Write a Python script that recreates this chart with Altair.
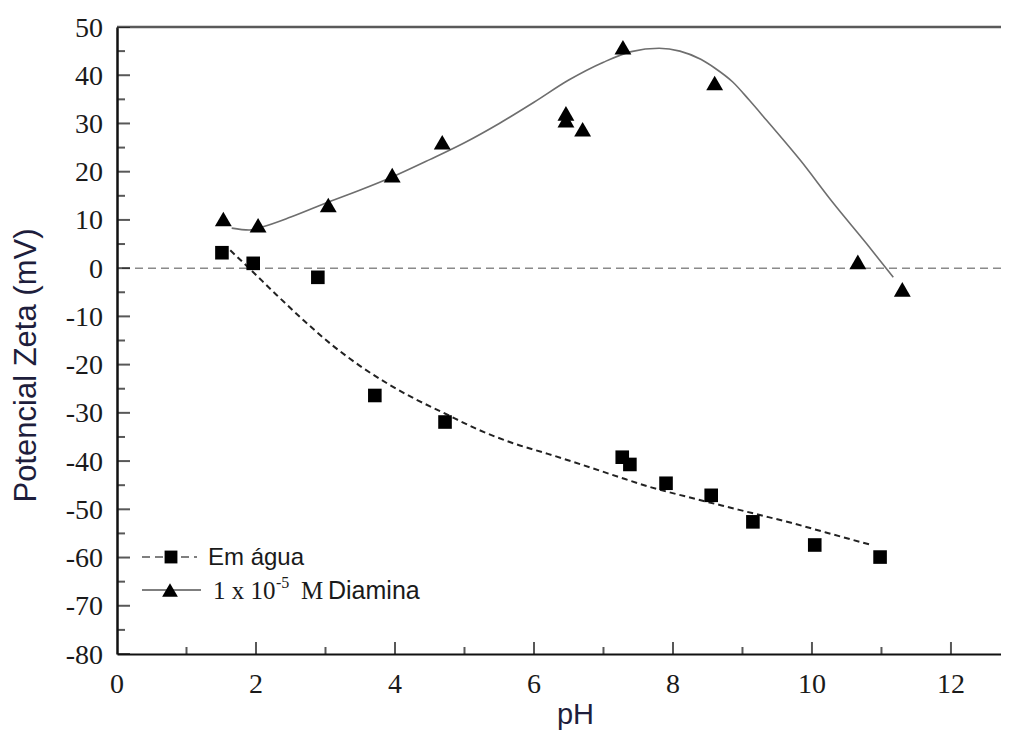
import altair as alt
import pandas as pd

# measured points
ph_agua = [1.51, 1.96, 2.89, 3.71, 4.72, 7.27, 7.38, 7.90, 8.55, 9.15, 10.04, 10.98]
zeta_agua = [3.2, 1.0, -1.9, -26.4, -31.9, -39.2, -40.7, -44.6, -47.1, -52.6, -57.4, -59.9]

ph_diam = [1.53, 2.03, 3.04, 3.96, 4.68, 6.46, 6.46, 6.70, 7.28, 8.60, 10.66, 11.30]
zeta_diam = [10.2, 8.9, 13.1, 19.3, 26.1, 32.1, 30.7, 28.8, 45.8, 38.4, 1.3, -4.4]

# fitted curves
fit_agua_ph = [1.63, 1.90, 2.30, 2.70, 3.10, 3.50, 3.90, 4.30, 4.70, 5.20, 5.70, 6.20,
               6.70, 7.20, 7.70, 8.20, 8.70, 9.20, 9.70, 10.20, 10.83]
fit_agua_zeta = [3.7, 0.0, -5.6, -11.0, -16.0, -20.3, -24.0, -27.2, -30.0, -33.5, -36.3, -38.5,
                 -40.8, -43.2, -45.5, -47.4, -49.2, -51.0, -52.8, -54.8, -57.3]

fit_diam_ph = [1.65, 1.90, 2.10, 2.50, 3.04, 3.50, 3.96, 4.50, 5.00, 5.50, 6.00, 6.50,
               7.00, 7.40, 7.80, 8.10, 8.40, 8.60, 8.86, 9.10, 9.35, 9.83, 10.30, 10.79, 11.17]
fit_diam_zeta = [8.3, 7.9, 8.6, 10.6, 13.7, 16.2, 18.9, 22.5, 26.0, 30.0, 34.4, 39.0,
                 42.7, 44.9, 45.6, 45.0, 43.3, 41.5, 38.6, 34.8, 30.6, 22.4, 13.6, 5.0, -1.9]

x_major = [0, 2, 4, 6, 8, 10, 12]
x_minor = [1, 3, 5, 7, 9, 11]
y_major = [-80, -70, -60, -50, -40, -30, -20, -10, 0, 10, 20, 30, 40, 50]
y_minor = [-75, -65, -55, -45, -35, -25, -15, -5, 5, 15, 25, 35, 45]
x_labels = [str(v) for v in x_major]
y_labels = [str(v) for v in y_major]

X_MAX = 12.72
W, H = 884, 627

xs = alt.Scale(domain=[0, X_MAX], nice=False, zero=False)
ys = alt.Scale(domain=[-80, 50], nice=False, zero=False)

SERIF = "Liberation Serif"
SANS = "Liberation Sans"

df_agua = pd.DataFrame({"pH": ph_agua, "zeta": zeta_agua})
df_diam = pd.DataFrame({"pH": ph_diam, "zeta": zeta_diam})
df_fa = pd.DataFrame({"pH": fit_agua_ph, "zeta": fit_agua_zeta})
df_fd = pd.DataFrame({"pH": fit_diam_ph, "zeta": fit_diam_zeta})
one = pd.DataFrame({"a": [0]})

x_axis = alt.Axis(values=x_major, tickSize=0, labels=False,
                  domainColor="#111", domainWidth=2, grid=False,
                  title="pH", titleFont=SANS, titleFontSize=29, titleFontWeight="normal",
                  titleColor="#1e1e3c", titleX=458, titleY=60, titleBaseline="middle")
y_axis = alt.Axis(values=y_major, tickSize=0, labels=False,
                  domainColor="#111", domainWidth=2.5, grid=False,
                  title="Potencial Zeta (mV)", titleFont=SANS, titleFontSize=31,
                  titleFontWeight="normal", titleColor="#1e1e3c", titleAngle=-90,
                  titleX=-91, titleY=338, titleBaseline="middle", titleAlign="center")

base_axes = alt.Chart(df_agua).mark_point(opacity=0).encode(
    x=alt.X("pH:Q", scale=xs, axis=x_axis),
    y=alt.Y("zeta:Q", scale=ys, axis=y_axis),
)

zero_line = alt.Chart(one).mark_rule(color="#8a8a8a", strokeDash=[8, 5], strokeWidth=1.5).encode(
    y=alt.datum(0))
top_line = alt.Chart(one).mark_rule(color="#5a5a5a", strokeWidth=2.5).encode(
    y=alt.datum(50))

fit_a = alt.Chart(df_fa).mark_line(color="#222", strokeDash=[6, 4], strokeWidth=2,
                                   interpolate="monotone").encode(x="pH:Q", y="zeta:Q")
fit_d = alt.Chart(df_fd).mark_line(color="#6e6e6e", strokeWidth=1.6,
                                   interpolate="monotone").encode(x="pH:Q", y="zeta:Q")

pts_a = alt.Chart(df_agua).mark_point(shape="square", filled=True, color="#000",
                                      size=185, opacity=1).encode(x="pH:Q", y="zeta:Q")
pts_d = alt.Chart(df_diam).mark_point(shape="triangle-up", filled=True, color="#000",
                                      size=285, opacity=1).encode(x="pH:Q", y="zeta:Q")

# inward ticks
ty_major = alt.Chart(pd.DataFrame({"pH": [0] * len(y_major), "zeta": y_major})).mark_tick(
    orient="horizontal", size=26, thickness=2, color="#111", clip=True).encode(
    x="pH:Q", y="zeta:Q")
ty_minor = alt.Chart(pd.DataFrame({"pH": [0] * len(y_minor), "zeta": y_minor})).mark_tick(
    orient="horizontal", size=16, thickness=2, color="#111", clip=True).encode(
    x="pH:Q", y="zeta:Q")
tx_major = alt.Chart(pd.DataFrame({"pH": x_major, "zeta": [-80] * len(x_major)})).mark_tick(
    orient="vertical", size=24, thickness=2, color="#111", clip=True).encode(
    x="pH:Q", y="zeta:Q")
tx_minor = alt.Chart(pd.DataFrame({"pH": x_minor, "zeta": [-80] * len(x_minor)})).mark_tick(
    orient="vertical", size=14, thickness=2, color="#111", clip=True).encode(
    x="pH:Q", y="zeta:Q")

# tick labels (serif), positioned through the scales
lx = alt.Chart(pd.DataFrame({"pH": x_major, "zeta": [-80] * len(x_major), "t": x_labels})).mark_text(
    font=SERIF, fontSize=28, color="#1a1a1a", align="center", baseline="alphabetic", dy=39).encode(
    x="pH:Q", y="zeta:Q", text="t:N")
ly = alt.Chart(pd.DataFrame({"pH": [0] * len(y_major), "zeta": y_major, "t": y_labels})).mark_text(
    font=SERIF, fontSize=28, color="#1a1a1a", align="right", baseline="alphabetic", dx=-14, dy=9.5).encode(
    x="pH:Q", y="zeta:Q", text="t:N")

# legend (pixel positions inside the plot area)
leg_l1 = alt.Chart(one).mark_rule(color="#555", strokeDash=[8, 5], strokeWidth=1.6).encode(
    x=alt.value(25), x2=alt.value(80), y=alt.value(530))
leg_p1 = alt.Chart(one).mark_point(shape="square", filled=True, color="#000", size=165,
                                   opacity=1).encode(x=alt.value(54), y=alt.value(530))
leg_t1 = alt.Chart(one).mark_text(text="Em água", font=SANS, fontSize=24, align="left",
                                  baseline="alphabetic", color="#1a1a1a").encode(
    x=alt.value(91), y=alt.value(538))
leg_l2 = alt.Chart(one).mark_rule(color="#555", strokeWidth=1.6).encode(
    x=alt.value(25), x2=alt.value(84), y=alt.value(563))
leg_p2 = alt.Chart(one).mark_point(shape="triangle-up", filled=True, color="#000", size=250,
                                   opacity=1).encode(x=alt.value(53), y=alt.value(563))
leg_t2a = alt.Chart(one).mark_text(text="1 x 10", font=SERIF, fontSize=25, align="left",
                                   baseline="alphabetic", color="#1a1a1a").encode(
    x=alt.value(96), y=alt.value(572))
leg_t2b = alt.Chart(one).mark_text(text="-5", font=SERIF, fontSize=16, align="left",
                                   baseline="alphabetic", color="#1a1a1a").encode(
    x=alt.value(159), y=alt.value(561))
leg_t2c = alt.Chart(one).mark_text(text="M", font=SERIF, fontSize=25, align="left",
                                   baseline="alphabetic", color="#1a1a1a").encode(
    x=alt.value(184), y=alt.value(572))
leg_t2d = alt.Chart(one).mark_text(text="Diamina", font=SANS, fontSize=25, align="left",
                                   baseline="alphabetic", color="#1a1a1a").encode(
    x=alt.value(211), y=alt.value(572))

chart = alt.layer(
    base_axes, zero_line, top_line, fit_a, fit_d, pts_a, pts_d,
    ty_major, ty_minor, tx_major, tx_minor, lx, ly,
    leg_l1, leg_p1, leg_t1, leg_l2, leg_p2, leg_t2a, leg_t2b, leg_t2c, leg_t2d,
).properties(
    width=W, height=H,
    autosize=alt.AutoSizeParams(type="none"),
    padding={"left": 109, "top": 19, "right": 0, "bottom": 77},
).configure_view(stroke=None).configure(background="white")

chart.save("out.html", embed_options={"renderer": "svg", "actions": False})
